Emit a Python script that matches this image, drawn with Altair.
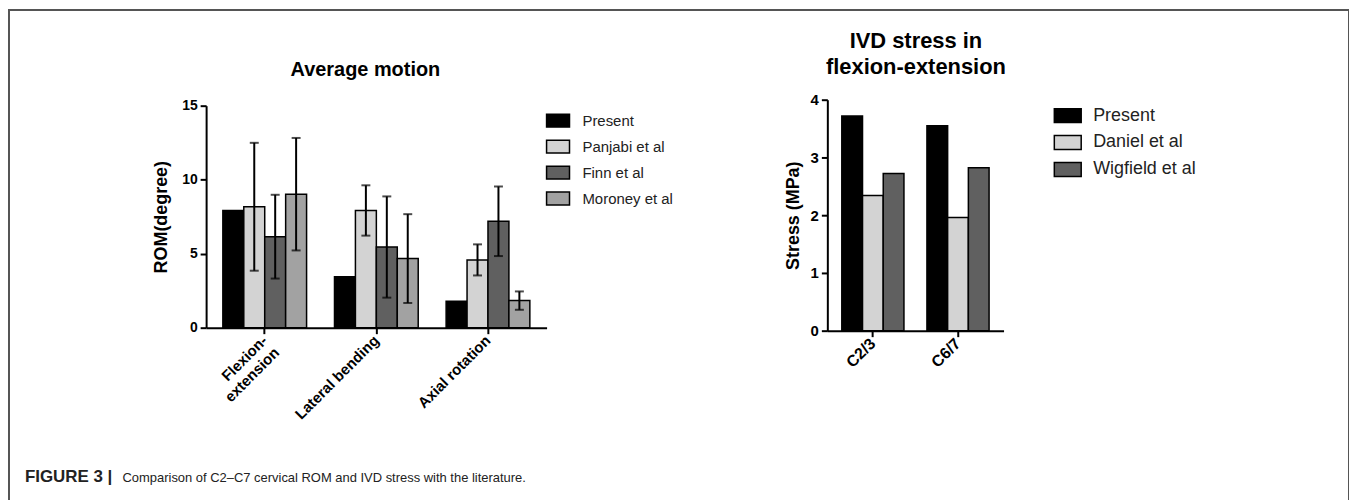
import altair as alt
import pandas as pd

# ---------------- data ----------------
rom_motions = ["Flexion-extension", "Lateral bending", "Axial rotation"]
rom_studies = ["Present", "Panjabi et al", "Finn et al", "Moroney et al"]
rom_present = [7.92, 3.44, 1.79]
rom_panjabi = [8.17, 7.92, 4.58]
rom_finn = [6.15, 5.45, 7.19]
rom_moroney = [9.02, 4.67, 1.83]
err_panjabi = [4.32, 1.70, 1.05]
err_finn = [2.83, 3.42, 2.35]
err_moroney = [3.80, 3.00, 0.62]
rom_ticks = [0, 5, 10, 15]

ivd_levels = ["C2/3", "C6/7"]
ivd_studies = ["Present", "Daniel et al", "Wigfield et al"]
ivd_present = [3.72, 3.55]
ivd_daniel = [2.34, 1.96]
ivd_wigfield = [2.72, 2.82]
ivd_ticks = [0, 1, 2, 3, 4]

ROM_COLORS = ["#000000", "#d3d3d3", "#606060", "#a2a2a2"]
IVD_COLORS = ["#000000", "#d3d3d3", "#606060"]

FONT = "Liberation Sans, Arial, sans-serif"
W, H = 1346, 500
P = 1  # outer padding so the frame stroke is not cut

rows = []
for i, m in enumerate(rom_motions):
    for s, vals, errs in zip(rom_studies,
                             [rom_present, rom_panjabi, rom_finn, rom_moroney],
                             [None, err_panjabi, err_finn, err_moroney]):
        rows.append({"motion": m, "study": s, "value": vals[i],
                     "err": errs[i] if errs else 0})
rom_df = pd.DataFrame(rows)

rows = []
for i, lv in enumerate(ivd_levels):
    for s, vals in zip(ivd_studies, [ivd_present, ivd_daniel, ivd_wigfield]):
        rows.append({"level": lv, "study": s, "value": vals[i]})
ivd_df = pd.DataFrame(rows)

# ---------------- left panel ----------------
axis_common = dict(domainColor="black", domainWidth=2, tickColor="black",
                   tickWidth=2, tickSize=6, grid=False, labelColor="black",
                   labelFont=FONT, labelFontWeight="bold", titleFont=FONT,
                   titleFontWeight="bold", titleColor="black")

lx_scale = alt.Scale(domain=rom_motions, range=[198, 540],
                     paddingInner=0.25, paddingOuter=0.15)
lx_axis = alt.Axis(orient="bottom", offset=319 - H, title=None, labelAngle=-45,
                   labelAlign="right", labelBaseline="middle", labelFontSize=15,
                   labelPadding=4, labelOverlap=False, labelLineHeight=17,
                   labelExpr="datum.label == 'Flexion-extension' ? ['Flexion-', 'extension'] : datum.label",
                   **axis_common)
ly_scale = alt.Scale(domain=[0, 15], range=[319, 96], nice=False)
ly_axis = alt.Axis(orient="left", offset=-198, values=rom_ticks,
                   title="ROM(degree)", labelFontSize=14, labelPadding=3,
                   titleFontSize=18, titlePadding=11, **axis_common)
lxo = alt.XOffset("study:N", sort=rom_studies, scale=alt.Scale(domain=rom_studies))


def lx():
    return alt.X("motion:N", sort=rom_motions, scale=lx_scale, axis=lx_axis)


def ly(field):
    return alt.Y(field, scale=ly_scale, axis=ly_axis)


left_bars = alt.Chart(rom_df).mark_bar(stroke="black", strokeWidth=1.5).encode(
    x=lx(), xOffset=lxo, y=ly("value:Q"),
    color=alt.Color("study:N", sort=rom_studies,
                    scale=alt.Scale(domain=rom_studies, range=ROM_COLORS),
                    legend=alt.Legend(orient="none", legendX=542.5, legendY=102,
                                      title=None, padding=0,
                                      symbolType="M-1.44,-0.81H1.44V0.81H-1.44Z",
                                      symbolSize=256, symbolStrokeColor="black",
                                      symbolStrokeWidth=1.5, labelFont=FONT,
                                      labelFontSize=15, labelColor="#222222",
                                      labelOffset=15.5, rowPadding=6.1)),
)

err_base = alt.Chart(rom_df).transform_filter("datum.err > 0").transform_calculate(
    lo="datum.value - datum.err", hi="datum.value + datum.err")
left_rule = err_base.mark_rule(color="black", strokeWidth=2).encode(
    x=lx(), xOffset=lxo, y=ly("lo:Q"), y2="hi:Q")
left_cap_hi = err_base.mark_tick(color="black", thickness=2, size=9).encode(
    x=lx(), xOffset=lxo, y=ly("hi:Q"))
left_cap_lo = err_base.mark_tick(color="black", thickness=2, size=9).encode(
    x=lx(), xOffset=lxo, y=ly("lo:Q"))

left = alt.layer(left_bars, left_rule, left_cap_hi, left_cap_lo)

# ---------------- right panel ----------------
rx_scale = alt.Scale(domain=ivd_levels, range=[822, 999],
                     paddingInner=0.27, paddingOuter=0.17)
rx_axis = alt.Axis(orient="bottom", offset=322 - H, title=None, labelAngle=-45,
                   labelAlign="right", labelBaseline="middle", labelFontSize=16,
                   labelPadding=4, labelOverlap=False, **axis_common)
ry_scale = alt.Scale(domain=[0, 4], range=[322, 90], nice=False)
ry_axis = alt.Axis(orient="left", offset=-822, values=ivd_ticks,
                   title="Stress (MPa)", labelFontSize=15, labelPadding=3,
                   titleFontSize=18, titlePadding=8, **axis_common)

right = alt.Chart(ivd_df).mark_bar(stroke="black", strokeWidth=1.5).encode(
    x=alt.X("level:N", sort=ivd_levels, scale=rx_scale, axis=rx_axis),
    xOffset=alt.XOffset("study:N", sort=ivd_studies,
                        scale=alt.Scale(domain=ivd_studies)),
    y=alt.Y("value:Q", scale=ry_scale, axis=ry_axis),
    color=alt.Color("study:N", sort=ivd_studies,
                    scale=alt.Scale(domain=ivd_studies, range=IVD_COLORS),
                    legend=alt.Legend(orient="none", legendX=1053.5, legendY=96,
                                      title=None, padding=0,
                                      symbolType="M-1.5,-0.78H1.5V0.78H-1.5Z",
                                      symbolSize=324, symbolStrokeColor="black",
                                      symbolStrokeWidth=1.5, labelFont=FONT,
                                      labelFontSize=18, labelColor="#222222",
                                      labelOffset=15.5, rowPadding=5)),
)


# ---------------- texts ----------------
def text_layer(txt, x, y, size, weight="bold", align="center", color="black"):
    return alt.Chart(pd.DataFrame({"t": [txt]})).mark_text(
        font=FONT, fontSize=size, fontWeight=weight, align=align,
        baseline="alphabetic", color=color).encode(
        text="t:N", x=alt.value(x), y=alt.value(y))


title_left = text_layer("Average motion", 358, 66, 20)
title_right1 = text_layer("IVD stress in", 911, 38, 22)
title_right2 = text_layer("flexion-extension", 911, 64, 22)
cap_bold = text_layer("FIGURE 3 |", 16, 474, 17, align="left", color="#222222")
cap_text = text_layer("Comparison of C2\u2013C7 cervical ROM and IVD stress with the literature.",
                      114, 474, 13, weight="normal", align="left", color="#222222")

chart = alt.layer(left, right, title_left, title_right1, title_right2,
                  cap_bold, cap_text).resolve_scale(
    x="independent", y="independent", xOffset="independent", color="independent"
).properties(
    width=W, height=H, padding={"left": P, "top": P, "right": 0, "bottom": 0}
).configure(font=FONT).configure_view(
    stroke="#555555", strokeWidth=2
)

chart.save("out.html", embed_options={"renderer": "svg", "actions": False})
